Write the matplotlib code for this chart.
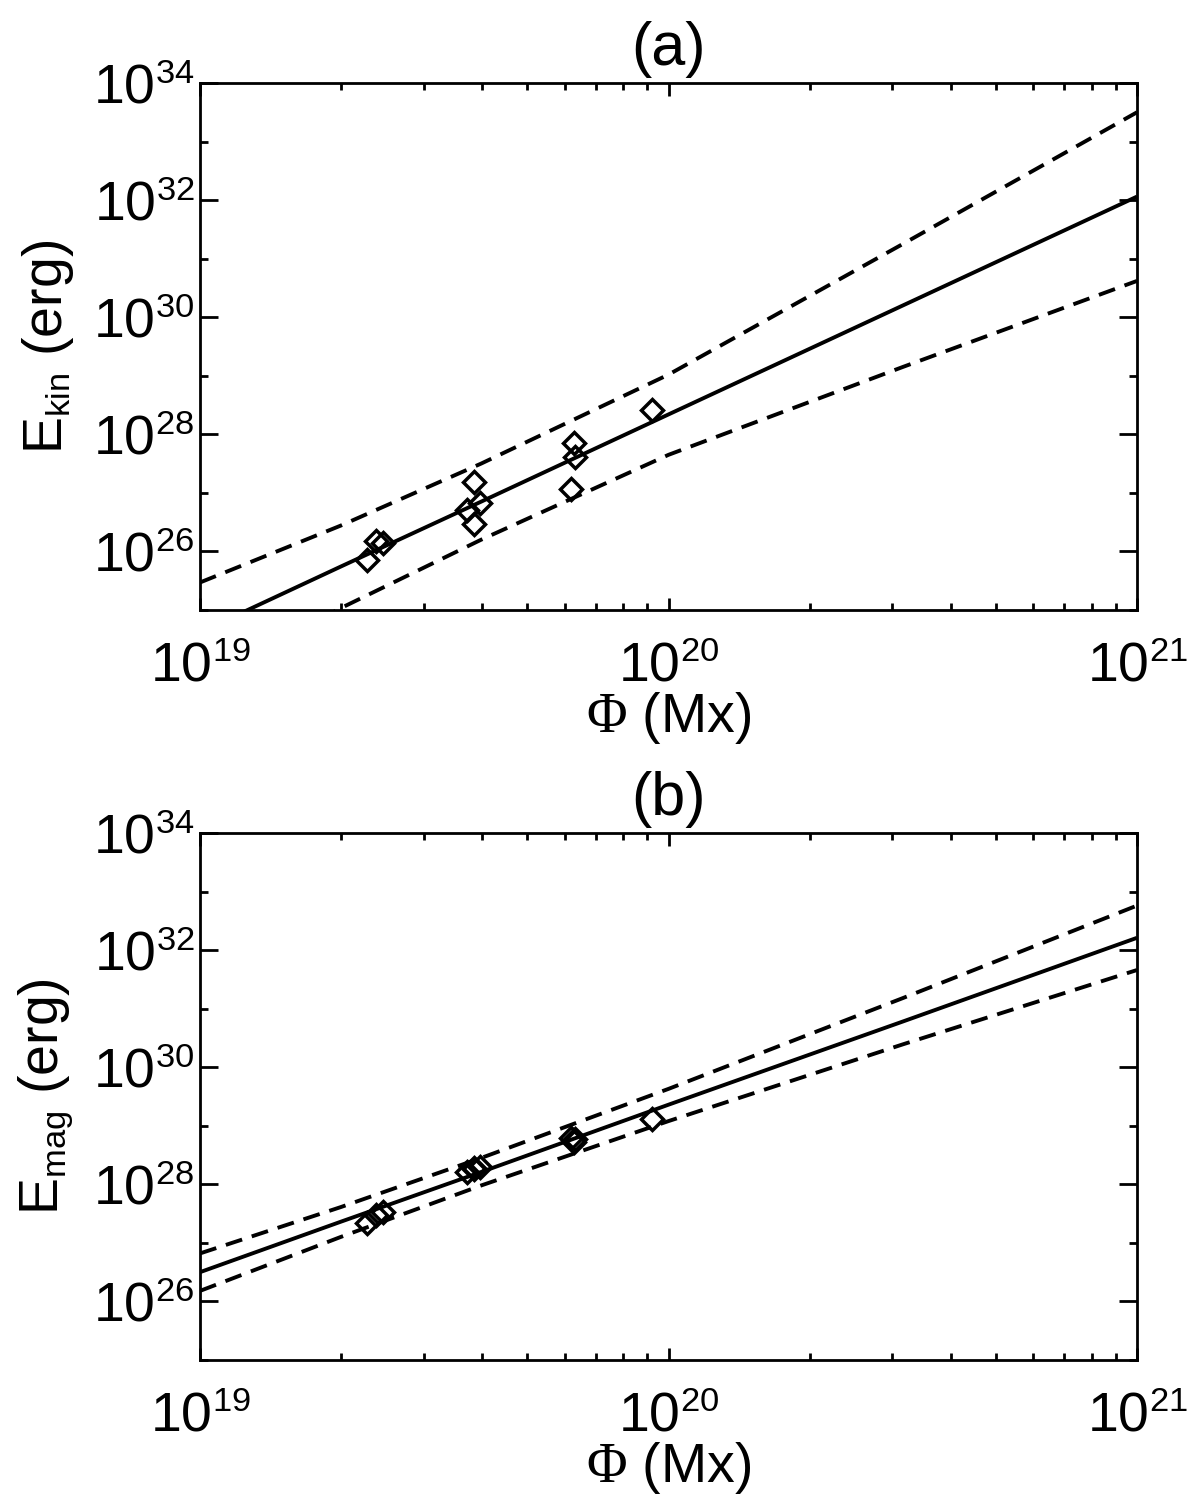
import numpy as np
import matplotlib
matplotlib.use("Agg")
import matplotlib.pyplot as plt
import matplotlib._mathtext as _mt
from matplotlib.ticker import LogLocator, FuncFormatter, NullFormatter, FixedLocator

_mt.SHRINK_FACTOR = 0.62

plt.rcParams['font.family'] = ['Liberation Sans', 'DejaVu Sans']
plt.rcParams['mathtext.fontset'] = 'custom'
plt.rcParams['mathtext.rm'] = 'Liberation Sans'
plt.rcParams['mathtext.it'] = 'Liberation Sans:italic'
plt.rcParams['mathtext.cal'] = 'Liberation Serif'

# ---- data ----
flux = [2.27e19, 2.38e19, 2.46e19, 3.71e19, 3.85e19, 3.96e19, 3.85e19,
        6.27e19, 6.32e19, 6.20e19, 9.2e19]
e_kin = [7.1e25, 1.5e26, 1.4e26, 5.2e26, 1.54e27, 6.8e26, 2.96e26,
         7.1e27, 4.15e27, 1.18e27, 2.6e28]
e_mag = [2.2e27, 3.0e27, 3.4e27, 1.6e28, 1.8e28, 2.0e28, 1.9e28,
         5.2e28, 6.0e28, 6.3e28, 1.3e29]

# fit lines and confidence bands (log10 values read at these log10(flux) nodes)
line_logx = [19.0, 19.3, 19.6, 20.0, 20.5, 21.0]
kin_fit   = [24.62, 25.74, 26.85, 28.34, 30.20, 32.06]
kin_upper = [25.47, 26.44, 27.50, 29.02, 31.25, 33.50]
kin_lower = [23.77, 25.03, 26.20, 27.65, 29.15, 30.62]
mag_fit   = [26.50, 27.36, 28.21, 29.36, 30.78, 32.21]
mag_upper = [26.82, 27.61, 28.45, 29.63, 31.18, 32.76]
mag_lower = [26.18, 27.10, 27.98, 29.08, 30.39, 31.66]

panel_titles = ['(a)', '(b)']
ylabels = [r'E$_{\rm kin}$ (erg)', r'E$_{\rm mag}$ (erg)']
xlabel = r'$\mathcal{\Phi}$ (Mx)'
y_major = [1e26, 1e28, 1e30, 1e32, 1e34]
y_minor = [1e25, 1e27, 1e29, 1e31, 1e33]

FS = 40
LW = 2.8

fig = plt.figure(figsize=(12, 15), dpi=100)
ax_a = fig.add_axes([200/1200, 1 - 610/1500, 937/1200, 527/1500])
ax_b = fig.add_axes([200/1200, 1 - 1360/1500, 937/1200, 527/1500])

def powlab(v, pos):
    e = int(round(np.log10(v)))
    return r'$10^{%d}$' % e

for ax, ydata, fit, up, lo, title, yl in [
        (ax_a, e_kin, kin_fit, kin_upper, kin_lower, panel_titles[0], ylabels[0]),
        (ax_b, e_mag, mag_fit, mag_upper, mag_lower, panel_titles[1], ylabels[1])]:
    lx = 10 ** np.array(line_logx)
    ax.plot(lx, 10 ** np.array(fit), color='black', lw=LW, solid_capstyle='butt')
    ax.plot(lx, 10 ** np.array(up), color='black', lw=LW, dashes=(4.4, 2.6))
    ax.plot(lx, 10 ** np.array(lo), color='black', lw=LW, dashes=(4.4, 2.6))
    ax.plot(flux, ydata, linestyle='none', marker='D', ms=11.5, mfc='none',
            mec='black', mew=2.5)
    ax.set_xscale('log')
    ax.set_yscale('log')
    ax.set_xlim(1e19, 1e21)
    ax.set_ylim(1e25, 1e34)
    ax.yaxis.set_major_locator(FixedLocator(y_major))
    ax.yaxis.set_major_formatter(FuncFormatter(powlab))
    ax.yaxis.set_minor_locator(FixedLocator(y_minor))
    ax.yaxis.set_minor_formatter(NullFormatter())
    ax.xaxis.set_major_locator(LogLocator(base=10, subs=(1.0,), numticks=30))
    ax.xaxis.set_major_formatter(FuncFormatter(powlab))
    ax.xaxis.set_minor_locator(LogLocator(base=10, subs=np.arange(2, 10), numticks=30))
    ax.xaxis.set_minor_formatter(NullFormatter())
    ax.tick_params(axis='y', which='major', direction='in', length=13, width=2,
                   left=True, right=True, labelsize=FS, pad=4)
    ax.tick_params(axis='y', which='minor', direction='in', length=6, width=2,
                   left=True, right=True)
    ax.tick_params(axis='x', which='major', direction='in', length=9, width=2,
                   bottom=True, top=True, labelsize=FS, pad=23)
    ax.tick_params(axis='x', which='minor', direction='in', length=5, width=2,
                   bottom=True, top=True)
    for s in ax.spines.values():
        s.set_linewidth(2)
    ax.set_title(title, fontsize=44, pad=13)
    ax.set_ylabel(yl, fontsize=FS, labelpad=12)
    ax.set_xlabel(xlabel, fontsize=FS, labelpad=-3)

fig.savefig('out.png', dpi=100, facecolor='white')
